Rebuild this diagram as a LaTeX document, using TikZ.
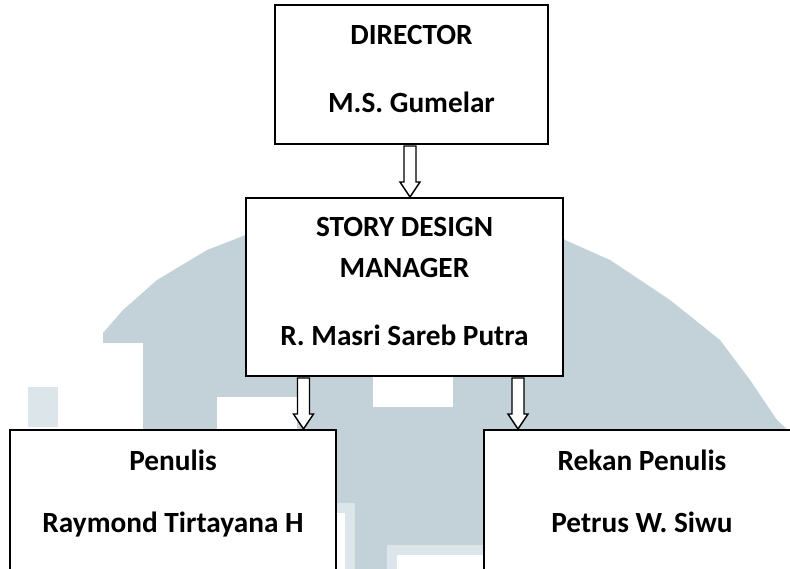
\documentclass[tikz,border=0pt]{standalone}
\usepackage{fontspec}
\setmainfont{Carlito}
\usetikzlibrary{calc}
\definecolor{wmark}{HTML}{C2D2D8}
\definecolor{wlight}{HTML}{DCE6EA}
\tikzset{
  boxnode/.style={draw=black, line width=2pt, fill=white, inner sep=0pt, rectangle},
  lbl/.style={font=\fontsize{29.3}{31}\selectfont\bfseries, anchor=base, inner sep=0pt},
  harrow/.style={draw=black, line width=1.4pt, fill=white, line join=miter}
}
\newcommand{\hollowarrow}[2]{%
  \draw[harrow] let \p1=(#1), \p2=(#2) in
    (\x1-6pt,\y1-1pt) -- (\x1-6pt,\y2+15pt) -- (\x1-10pt,\y2+15pt) -- (\x1,\y2)
    -- (\x1+10pt,\y2+15pt) -- (\x1+6pt,\y2+15pt) -- (\x1+6pt,\y1-1pt) -- cycle;}
\begin{document}
\begin{tikzpicture}[x=1pt,y=-1pt]
\useasboundingbox (0,0) rectangle (790,569);
\clip (0,0) rectangle (790,569);
% faint watermark
\fill[wmark] (143,569) -- (143,343) -- (103,343) -- (103,333) -- (123,310) -- (157,280)
  -- (207,250) -- (233,240) -- (250,233) -- (404,200) -- (560,233) -- (565,240)
  -- (610,260) -- (670,300) -- (720,340) -- (750,380) -- (777,420) -- (790,432)
  -- (790,569) -- cycle;
\fill[wlight] (28,387) rectangle (58,427);
\fill[white] (217,397) rectangle (297,430);
\fill[white] (373,377) rectangle (453,407);
\fill[wlight] (387,545) rectangle (484,569);
\fill[white] (397,555) rectangle (484,569);
\fill[wlight] (337,503) rectangle (355,569);
\fill[white] (337,513) rectangle (345,569);
% boxes
\node[boxnode, minimum width=273pt, minimum height=139pt] (top) at (411.5,74.5) {};
\node[boxnode, minimum width=317pt, minimum height=178pt] (mid) at (404.5,287) {};
\node[boxnode, minimum width=326pt, minimum height=200pt] (left) at (173,530) {};
\node[boxnode, minimum width=316pt, minimum height=200pt] (right) at (642,530) {};
% texts
\node[lbl] (t1) at (411.5,45) {DIRECTOR};
\node[lbl] (t2) at (411.5,113) {M.S. Gumelar};
\node[lbl] (m1) at (404.5,237) {STORY DESIGN};
\node[lbl] (m2) at (404.5,278) {MANAGER};
\node[lbl] (m3) at (404.5,345) {R. Masri Sareb Putra};
\node[lbl] (l1) at (173,470) {Penulis};
\node[lbl] (l2) at (173,532) {Raymond Tirtayana H};
\node[lbl] (r1) at (642,470) {Rekan Penulis};
\node[lbl] (r2) at (642,532) {Petrus W. Siwu};
% arrows
\coordinate (a1) at ([xshift=-1.5pt]top.south);
\coordinate (a2) at ([xshift=-101pt]mid.south);
\coordinate (a3) at ([xshift=113.5pt]mid.south);
\hollowarrow{a1}{mid.north}
\hollowarrow{a2}{left.north}
\hollowarrow{a3}{right.north}
\end{tikzpicture}
\end{document}
